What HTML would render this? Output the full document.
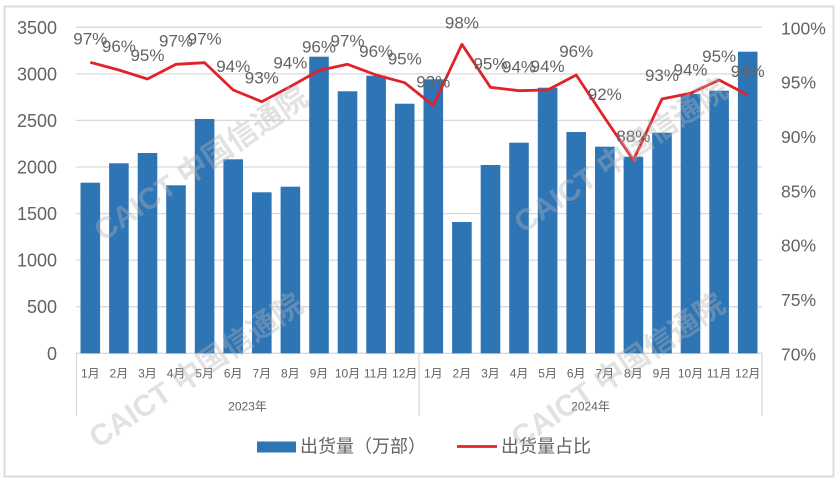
<!DOCTYPE html>
<html><head><meta charset="utf-8">
<style>
html,body{margin:0;padding:0;background:#fff;}
svg{display:block;}
text{font-family:"Liberation Sans","Noto Sans CJK SC",sans-serif;}
</style></head>
<body>
<svg width="840" height="479" viewBox="0 0 840 479" xmlns="http://www.w3.org/2000/svg">
<rect x="0" y="0" width="840" height="479" fill="#fff"/>
<rect x="4.5" y="6.5" width="829" height="470" fill="none" stroke="#dcdcdc" stroke-width="2"/>
<!-- gridlines -->
<g stroke="#d9d9d9" stroke-width="1.3">
<line x1="76" y1="27.3" x2="762" y2="27.3"/>
<line x1="76" y1="73.9" x2="762" y2="73.9"/>
<line x1="76" y1="120.4" x2="762" y2="120.4"/>
<line x1="76" y1="167" x2="762" y2="167"/>
<line x1="76" y1="213.6" x2="762" y2="213.6"/>
<line x1="76" y1="260.1" x2="762" y2="260.1"/>
<line x1="76" y1="306.7" x2="762" y2="306.7"/>
<line x1="76" y1="353.3" x2="762" y2="353.3"/>
<line x1="76.5" y1="353" x2="76.5" y2="416"/>
<line x1="419" y1="353" x2="419" y2="416"/>
<line x1="762" y1="353" x2="762" y2="416"/>
</g>
<!-- left axis -->
<g fill="#636363" font-size="18" text-anchor="end">
<text x="57" y="33.8">3500</text>
<text x="57" y="80.4">3000</text>
<text x="57" y="126.9">2500</text>
<text x="57" y="173.5">2000</text>
<text x="57" y="220.1">1500</text>
<text x="57" y="266.6">1000</text>
<text x="57" y="313.2">500</text>
<text x="57" y="359.8">0</text>
</g>
<!-- right axis -->
<g fill="#636363" font-size="17.5" text-anchor="start">
<text x="781" y="34.3">100%</text>
<text x="781" y="88.6">95%</text>
<text x="781" y="142.9">90%</text>
<text x="781" y="197.3">85%</text>
<text x="781" y="251.6">80%</text>
<text x="781" y="305.9">75%</text>
<text x="781" y="360.3">70%</text>
</g>
<!-- bars -->
<g fill="#2e75b6">
<rect x="80.5" y="182.7" width="19.6" height="170.6"/>
<rect x="109.1" y="163.3" width="19.6" height="190"/>
<rect x="137.7" y="153" width="19.6" height="200.3"/>
<rect x="166.2" y="185.3" width="19.6" height="168"/>
<rect x="194.8" y="119" width="19.6" height="234.3"/>
<rect x="223.4" y="159.3" width="19.6" height="194"/>
<rect x="252" y="192.3" width="19.6" height="161"/>
<rect x="280.6" y="186.7" width="19.6" height="166.6"/>
<rect x="309.2" y="56.7" width="19.6" height="296.6"/>
<rect x="337.7" y="91.3" width="19.6" height="262"/>
<rect x="366.3" y="75.7" width="19.6" height="277.6"/>
<rect x="394.9" y="103.7" width="19.6" height="249.6"/>
<rect x="423.5" y="79.3" width="19.6" height="274"/>
<rect x="452.1" y="222" width="19.6" height="131.3"/>
<rect x="480.7" y="165" width="19.6" height="188.3"/>
<rect x="509.2" y="142.7" width="19.6" height="210.6"/>
<rect x="537.8" y="87.7" width="19.6" height="265.6"/>
<rect x="566.4" y="132" width="19.6" height="221.3"/>
<rect x="595" y="146.7" width="19.6" height="206.6"/>
<rect x="623.6" y="156.7" width="19.6" height="196.6"/>
<rect x="652.2" y="132.7" width="19.6" height="220.6"/>
<rect x="680.7" y="94" width="19.6" height="259.3"/>
<rect x="709.3" y="90.7" width="19.6" height="262.6"/>
<rect x="737.9" y="51.7" width="19.6" height="301.6"/>
</g>
<!-- line -->
<polyline fill="none" stroke="#e0222b" stroke-width="2.8" stroke-linejoin="round" points="90.29,62.3 118.88,70 147.46,79 176.04,64.3 204.63,62.7 233.21,90 261.79,101.7 290.38,86.5 318.96,70.5 347.54,64.3 376.13,75 404.71,82.7 433.29,105.5 461.88,44.3 490.46,87.3 519.04,90.7 547.63,90 576.21,75 604.79,118 633.38,160 661.96,99 690.54,93.3 719.13,80 747.71,95"/>
<!-- data labels -->
<g fill="#636363" font-size="17" text-anchor="middle">
<text x="90.29" y="44.3">97%</text>
<text x="118.88" y="52">96%</text>
<text x="147.46" y="61">95%</text>
<text x="176.04" y="46.3">97%</text>
<text x="204.63" y="44.7">97%</text>
<text x="233.21" y="72">94%</text>
<text x="261.79" y="83.7">93%</text>
<text x="290.38" y="68.5">94%</text>
<text x="318.96" y="52.5">96%</text>
<text x="347.54" y="46.3">97%</text>
<text x="376.13" y="57">96%</text>
<text x="404.71" y="64.7">95%</text>
<text x="433.29" y="87.5">93%</text>
<text x="461.88" y="28.3">98%</text>
<text x="490.46" y="69.3">95%</text>
<text x="519.04" y="72.7">94%</text>
<text x="547.63" y="72">94%</text>
<text x="576.21" y="57">96%</text>
<text x="604.79" y="100">92%</text>
<text x="633.38" y="142">88%</text>
<text x="661.96" y="81">93%</text>
<text x="690.54" y="75.3">94%</text>
<text x="719.13" y="62">95%</text>
<text x="747.71" y="77">94%</text>
</g>
<!-- month labels -->
<g fill="#636363" font-size="12" text-anchor="middle">
<text x="90.29" y="377.5">1月</text>
<text x="118.88" y="377.5">2月</text>
<text x="147.46" y="377.5">3月</text>
<text x="176.04" y="377.5">4月</text>
<text x="204.63" y="377.5">5月</text>
<text x="233.21" y="377.5">6月</text>
<text x="261.79" y="377.5">7月</text>
<text x="290.38" y="377.5">8月</text>
<text x="318.96" y="377.5">9月</text>
<text x="347.54" y="377.5">10月</text>
<text x="376.13" y="377.5">11月</text>
<text x="404.71" y="377.5">12月</text>
<text x="433.29" y="377.5">1月</text>
<text x="461.88" y="377.5">2月</text>
<text x="490.46" y="377.5">3月</text>
<text x="519.04" y="377.5">4月</text>
<text x="547.63" y="377.5">5月</text>
<text x="576.21" y="377.5">6月</text>
<text x="604.79" y="377.5">7月</text>
<text x="633.38" y="377.5">8月</text>
<text x="661.96" y="377.5">9月</text>
<text x="690.54" y="377.5">10月</text>
<text x="719.13" y="377.5">11月</text>
<text x="747.71" y="377.5">12月</text>
<text x="247.5" y="410.5">2023年</text>
<text x="590.5" y="410.5">2024年</text>
</g>
<!-- legend -->
<rect x="257" y="441.5" width="39" height="11" fill="#2e75b6"/>
<text x="300" y="452.5" font-size="18" fill="#636363">出货量（万部）</text>
<line x1="457" y1="446.5" x2="497" y2="446.5" stroke="#e0222b" stroke-width="2.8"/>
<text x="501" y="452.5" font-size="18" fill="#636363">出货量占比</text>
<!-- watermarks -->
<g fill="#b4b4b4" fill-opacity="0.38" font-size="30" font-weight="bold">
<text transform="translate(103,242) rotate(-34)">CAICT 中国信通院</text>
<text transform="translate(523,234) rotate(-34)">CAICT 中国信通院</text>
<text transform="translate(98,449) rotate(-34)">CAICT 中国信通院</text>
<text transform="translate(520,449) rotate(-34)">CAICT 中国信通院</text>
</g>
</svg>
</body></html>
